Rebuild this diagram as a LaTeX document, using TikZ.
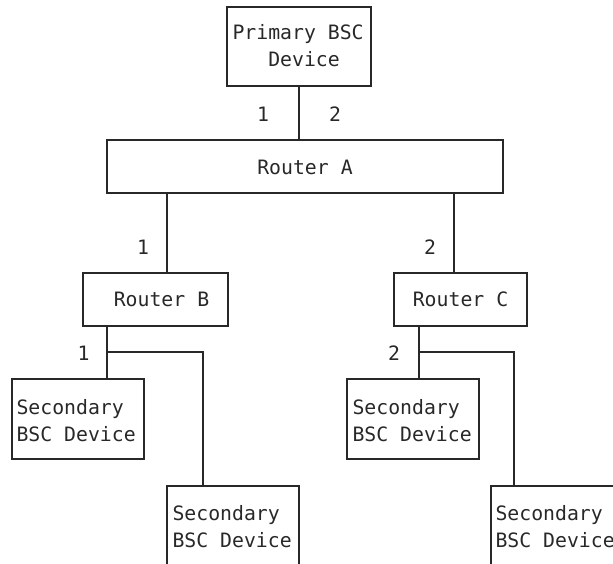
\documentclass[tikz,border=0pt]{standalone}
\usepackage{fontspec}
\setmonofont{DejaVu Sans Mono}
\definecolor{ink}{RGB}{40,40,40}
\begin{document}
\begin{tikzpicture}[x=1pt,y=-1pt,line width=1.1pt,
  box/.style={draw=ink,inner sep=0pt,outer sep=0pt,anchor=north west},
  txt/.style={text=ink,inner sep=0pt,font=\fontsize{19.8}{26.5}\selectfont\ttfamily,align=left,anchor=base west},
  lbl/.style={text=ink,inner sep=0pt,font=\fontsize{19.8}{26.5}\selectfont\ttfamily,anchor=base},
  wire/.style={draw=ink}]
\useasboundingbox (0,0) rectangle (613,563);
% boxes
\node[box,minimum width=144pt,minimum height=79pt] (prim) at (227,7) {};
\node[box,minimum width=396pt,minimum height=53pt] (ra) at (107,140) {};
\node[box,minimum width=145pt,minimum height=53pt] (rb) at (83,273) {};
\node[box,minimum width=133pt,minimum height=53pt] (rc) at (394,273) {};
\node[box,minimum width=132pt,minimum height=80pt] (sb1) at (12,379) {};
\node[box,minimum width=132pt,minimum height=90pt] (sb2) at (167,486) {};
\node[box,minimum width=132pt,minimum height=80pt] (sc1) at (347,379) {};
\node[box,minimum width=134pt,minimum height=90pt] (sc2) at (491,486) {};
% texts (base anchor = last line's baseline)
\node[txt,font=\fontsize{19.8}{27.3}\selectfont\ttfamily] (tprim) at (232,66.8) {Primary BSC\\\phantom{Pri}Device};
\node[lbl] (tra) at (305,174) {Router A};
\node[lbl] (trb) at (161.5,306.7) {Router B};
\node[lbl] (trc) at (460.5,306.7) {Router C};
\node[txt] (tsb1) at (16,441) {Secondary\\BSC Device};
\node[txt] (tsb2) at (172,547) {Secondary\\BSC Device};
\node[txt] (tsc1) at (352,441) {Secondary\\BSC Device};
\node[txt] (tsc2) at (495,547) {Secondary\\BSC Device};
% port labels
\node[lbl] (p1) at (263,121.5) {1};
\node[lbl] (p2) at (335,121.5) {2};
\node[lbl] (a1) at (143,254) {1};
\node[lbl] (a2) at (430,254) {2};
\node[lbl] (b1) at (83.5,360) {1};
\node[lbl] (c2) at (394,360) {2};
% junctions
\coordinate (jb) at (107,352);
\coordinate (jc) at (419,352);
% connectors
\draw[wire] (prim.south) -- (prim.south |- ra.north);
\draw[wire] ([xshift=60pt]ra.south west) -- ([xshift=60pt]ra.south west |- rb.north);
\draw[wire] ([xshift=-49pt]ra.south east) -- ([xshift=-49pt]ra.south east |- rc.north);
\draw[wire] ([xshift=24pt]rb.south west) -- ([xshift=24pt]rb.south west |- sb1.north);
\draw[wire] (jb) -| ([xshift=36pt]sb2.north west);
\draw[wire] ([xshift=25pt]rc.south west) -- ([xshift=25pt]rc.south west |- sc1.north);
\draw[wire] (jc) -| ([xshift=23pt]sc2.north west);
\end{tikzpicture}
\end{document}
